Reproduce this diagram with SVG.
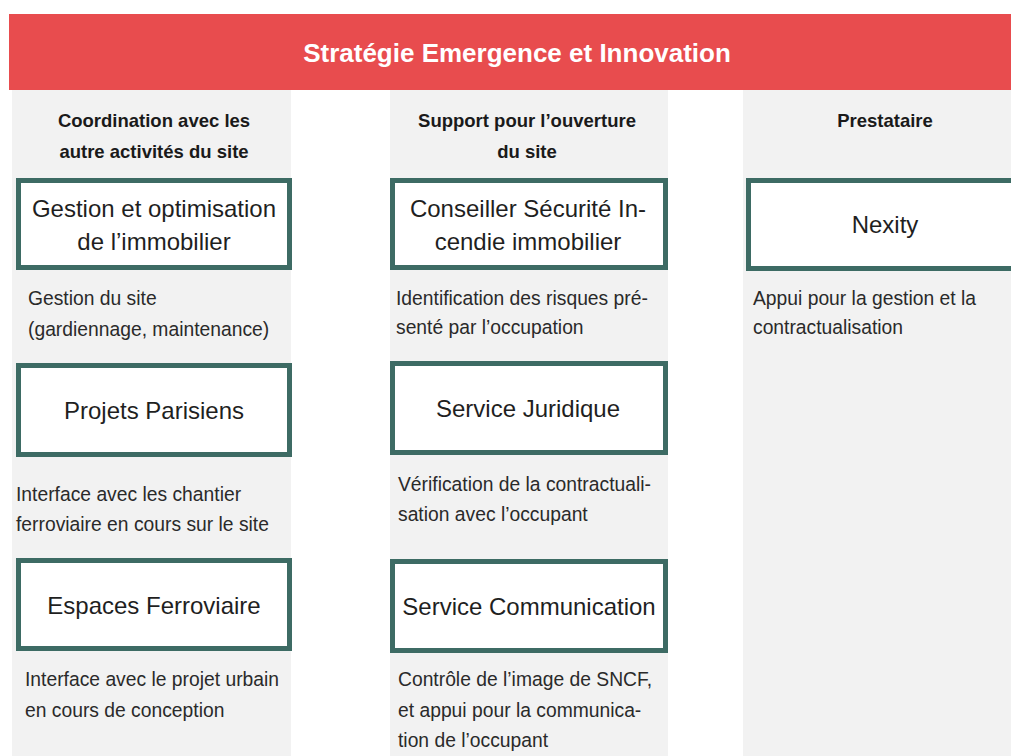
<svg xmlns="http://www.w3.org/2000/svg" width="1011" height="756" viewBox="0 0 1011 756">
<style>
.col{fill:#f2f2f2}
.box{fill:#ffffff;stroke:#3d6b64;stroke-width:5}
.title{font-family:"Liberation Sans",Arial,sans-serif;font-weight:bold;font-size:26px;fill:#ffffff}
.hd{font-family:"Liberation Sans",Arial,sans-serif;font-weight:bold;font-size:18.5px;fill:#1a1a1a}
.bt{font-family:"Liberation Sans",Arial,sans-serif;font-size:24px;fill:#1f1f1f}
.ds{font-family:"Liberation Sans",Arial,sans-serif;font-size:19.3px;fill:#2a2a2a}
</style>
<rect x="0" y="0" width="1011" height="756" fill="#ffffff"/>
<g id="columns">
<rect class="col" x="12" y="90" width="279" height="666"/>
<rect class="col" x="390" y="90" width="278" height="666"/>
<rect class="col" x="743" y="90" width="268" height="666"/>
</g>
<g id="header">
<rect x="9" y="14" width="1002" height="76" fill="#e84c4e"/>
<text class="title" x="517" y="62" text-anchor="middle">Stratégie Emergence et Innovation</text>
</g>
<g id="col1-header">
<text class="hd" x="154" y="127" text-anchor="middle">Coordination avec les</text>
<text class="hd" x="154" y="158" text-anchor="middle">autre activités du site</text>
</g>
<g id="col2-header">
<text class="hd" x="527" y="127" text-anchor="middle">Support pour l’ouverture</text>
<text class="hd" x="527" y="158" text-anchor="middle">du site</text>
</g>
<g id="col3-header">
<text class="hd" x="885" y="127" text-anchor="middle">Prestataire</text>
</g>
<g id="node-gestion">
<rect class="box" x="18.5" y="180.5" width="271" height="87"/>
<text class="bt" x="154" y="217" text-anchor="middle">Gestion et optimisation</text>
<text class="bt" x="154" y="250" text-anchor="middle">de l’immobilier</text>
<text class="ds" x="28" y="305">Gestion du site</text>
<text class="ds" x="28" y="336">(gardiennage, maintenance)</text>
</g>
<g id="node-projets">
<rect class="box" x="18.5" y="365.5" width="271" height="89"/>
<text class="bt" x="154" y="419" text-anchor="middle">Projets Parisiens</text>
<text class="ds" x="16" y="501">Interface avec les chantier</text>
<text class="ds" x="16" y="531">ferroviaire en cours sur le site</text>
</g>
<g id="node-espaces">
<rect class="box" x="18.5" y="560.5" width="271" height="88"/>
<text class="bt" x="154" y="614" text-anchor="middle">Espaces Ferroviaire</text>
<text class="ds" x="25" y="686">Interface avec le projet urbain</text>
<text class="ds" x="25" y="717">en cours de conception</text>
</g>
<g id="node-conseiller">
<rect class="box" x="392.5" y="180.5" width="273" height="87"/>
<text class="bt" x="528" y="217" text-anchor="middle">Conseiller Sécurité In-</text>
<text class="bt" x="528" y="250" text-anchor="middle">cendie immobilier</text>
<text class="ds" x="396" y="305">Identification des risques pré-</text>
<text class="ds" x="396" y="334">senté par l’occupation</text>
</g>
<g id="node-juridique">
<rect class="box" x="392.5" y="363.5" width="273" height="89"/>
<text class="bt" x="528" y="417" text-anchor="middle">Service Juridique</text>
<text class="ds" x="398" y="491">Vérification de la contractuali-</text>
<text class="ds" x="398" y="521">sation avec l’occupant</text>
</g>
<g id="node-communication">
<rect class="box" x="392.5" y="561.5" width="273" height="89"/>
<text class="bt" x="529" y="615" text-anchor="middle">Service Communication</text>
<text class="ds" x="398" y="686">Contrôle de l’image de SNCF,</text>
<text class="ds" x="398" y="717">et appui pour la communica-</text>
<text class="ds" x="398" y="747">tion de l’occupant</text>
</g>
<g id="node-nexity">
<rect class="box" x="748.5" y="180.5" width="270" height="88"/>
<text class="bt" x="885" y="233" text-anchor="middle">Nexity</text>
<text class="ds" x="753" y="305">Appui pour la gestion et la</text>
<text class="ds" x="753" y="334">contractualisation</text>
</g>
<g id="connectors"></g>
</svg>
